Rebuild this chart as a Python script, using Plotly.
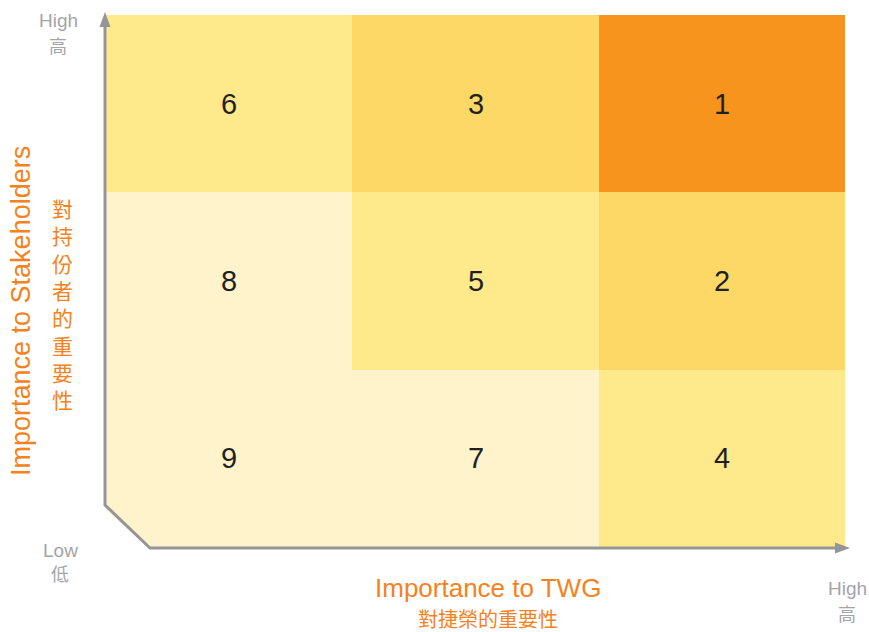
import plotly.graph_objects as go

# ---- data ----
twg_levels = ["Low", "Medium", "High"]            # x categories (Importance to TWG)
stakeholder_levels = ["Low", "Medium", "High"]    # y categories (Importance to Stakeholders)
# rank numbers, rows bottom -> top
ranks = [
    [9, 7, 4],
    [8, 5, 2],
    [6, 3, 1],
]
# priority tier of each cell (1 = lowest, 4 = highest), rows bottom -> top
tiers = [
    [1, 1, 2],
    [1, 2, 3],
    [2, 3, 4],
]
tier_colors = ["#FFF3CC", "#FEE98B", "#FDD866", "#F7941E"]

x_title_en = "Importance to TWG"
x_title_zh = "對捷榮的重要性"
y_title_en = "Importance to Stakeholders"
y_title_zh = "對持份者的重要性"
high_en, high_zh = "High", "高"
low_en, low_zh = "Low", "低"

ORANGE = "#F58220"
GRAY = "#939598"
LABEL_GRAY = "#A3A5A8"

W, H = 869, 632
CELL_L, CELL_R, CELL_T, CELL_B = 106, 845, 15, 547
L, T = CELL_L, CELL_T
R, B = W - CELL_R, H - CELL_B
PW, PH = W - L - R, H - T - B


def px(xp):
    return (xp - CELL_L) / PW


def py(yp):
    return (CELL_B - yp) / PH


colorscale = [[i / (len(tier_colors) - 1), c] for i, c in enumerate(tier_colors)]

fig = go.Figure(
    go.Heatmap(
        x=twg_levels,
        y=stakeholder_levels,
        z=tiers,
        zmin=1,
        zmax=4,
        colorscale=colorscale,
        showscale=False,
        text=ranks,
        texttemplate="%{text}",
        textfont=dict(size=29, color="#231F20", family="Liberation Sans, Arial, sans-serif"),
        hoverinfo="skip",
        xgap=0,
        ygap=0,
    )
)

shapes = []
# white cut corner at bottom-left
shapes.append(dict(
    type="path", xref="paper", yref="paper",
    path=f"M {px(100)},{py(505)} L {px(150)},{py(549)} L {px(100)},{py(549)} Z",
    fillcolor="white", line=dict(width=0), layer="above",
))
# axis line with bend
shapes.append(dict(
    type="path", xref="paper", yref="paper",
    path=(f"M {px(105)},{py(24)} L {px(105)},{py(505)} "
          f"L {px(150)},{py(548)} L {px(838)},{py(548)}"),
    line=dict(color=GRAY, width=3), layer="above",
))
# arrow heads
shapes.append(dict(
    type="path", xref="paper", yref="paper",
    path=f"M {px(105)},{py(12)} L {px(99.5)},{py(27)} L {px(110.5)},{py(27)} Z",
    fillcolor=GRAY, line=dict(width=0), layer="above",
))
shapes.append(dict(
    type="path", xref="paper", yref="paper",
    path=f"M {px(850)},{py(548)} L {px(835)},{py(542.5)} L {px(835)},{py(553.5)} Z",
    fillcolor=GRAY, line=dict(width=0), layer="above",
))

font_fam = "Liberation Sans, Arial, Noto Sans CJK TC, sans-serif"
cjk_fam = "Noto Sans CJK TC, sans-serif"


def ann(text, x, y, size, color, fam, angle=0):
    return dict(text=text, x=px(x), y=py(y), xref="paper", yref="paper",
                textangle=angle, showarrow=False,
                font=dict(size=size, color=color, family=fam),
                xanchor="center", yanchor="middle")


annotations = [
    ann(y_title_en, 21, 311, 27, ORANGE, font_fam, -90),
    ann("<br>".join(y_title_zh), 62, 303, 21, ORANGE, cjk_fam),
    ann(x_title_en, 488, 588, 26, ORANGE, font_fam),
    ann(x_title_zh, 488, 618, 20, ORANGE, cjk_fam),
    ann(high_en, 58, 21, 19, LABEL_GRAY, font_fam),
    ann(high_zh, 58, 45, 18, LABEL_GRAY, cjk_fam),
    ann(low_en, 60, 550, 19, LABEL_GRAY, font_fam),
    ann(low_zh, 60, 573, 18, LABEL_GRAY, cjk_fam),
    ann(high_en, 847, 588, 19, LABEL_GRAY, font_fam),
    ann(high_zh, 847, 613, 18, LABEL_GRAY, cjk_fam),
]

fig.update_layout(
    width=W, height=H,
    margin=dict(l=L, r=R, t=T, b=B, pad=0),
    paper_bgcolor="white", plot_bgcolor="white",
    xaxis=dict(range=[-0.5, 2.5], showgrid=False, zeroline=False, showticklabels=False,
               ticks="", showline=False, fixedrange=True),
    yaxis=dict(range=[-0.5, 2.5], showgrid=False, zeroline=False, showticklabels=False,
               ticks="", showline=False, fixedrange=True),
    shapes=shapes,
    annotations=annotations,
    showlegend=False,
)

fig.write_html(
    "out.html",
    config={"displayModeBar": False},
    post_script="document.body.style.margin='0px';document.body.style.overflow='hidden';",
)
